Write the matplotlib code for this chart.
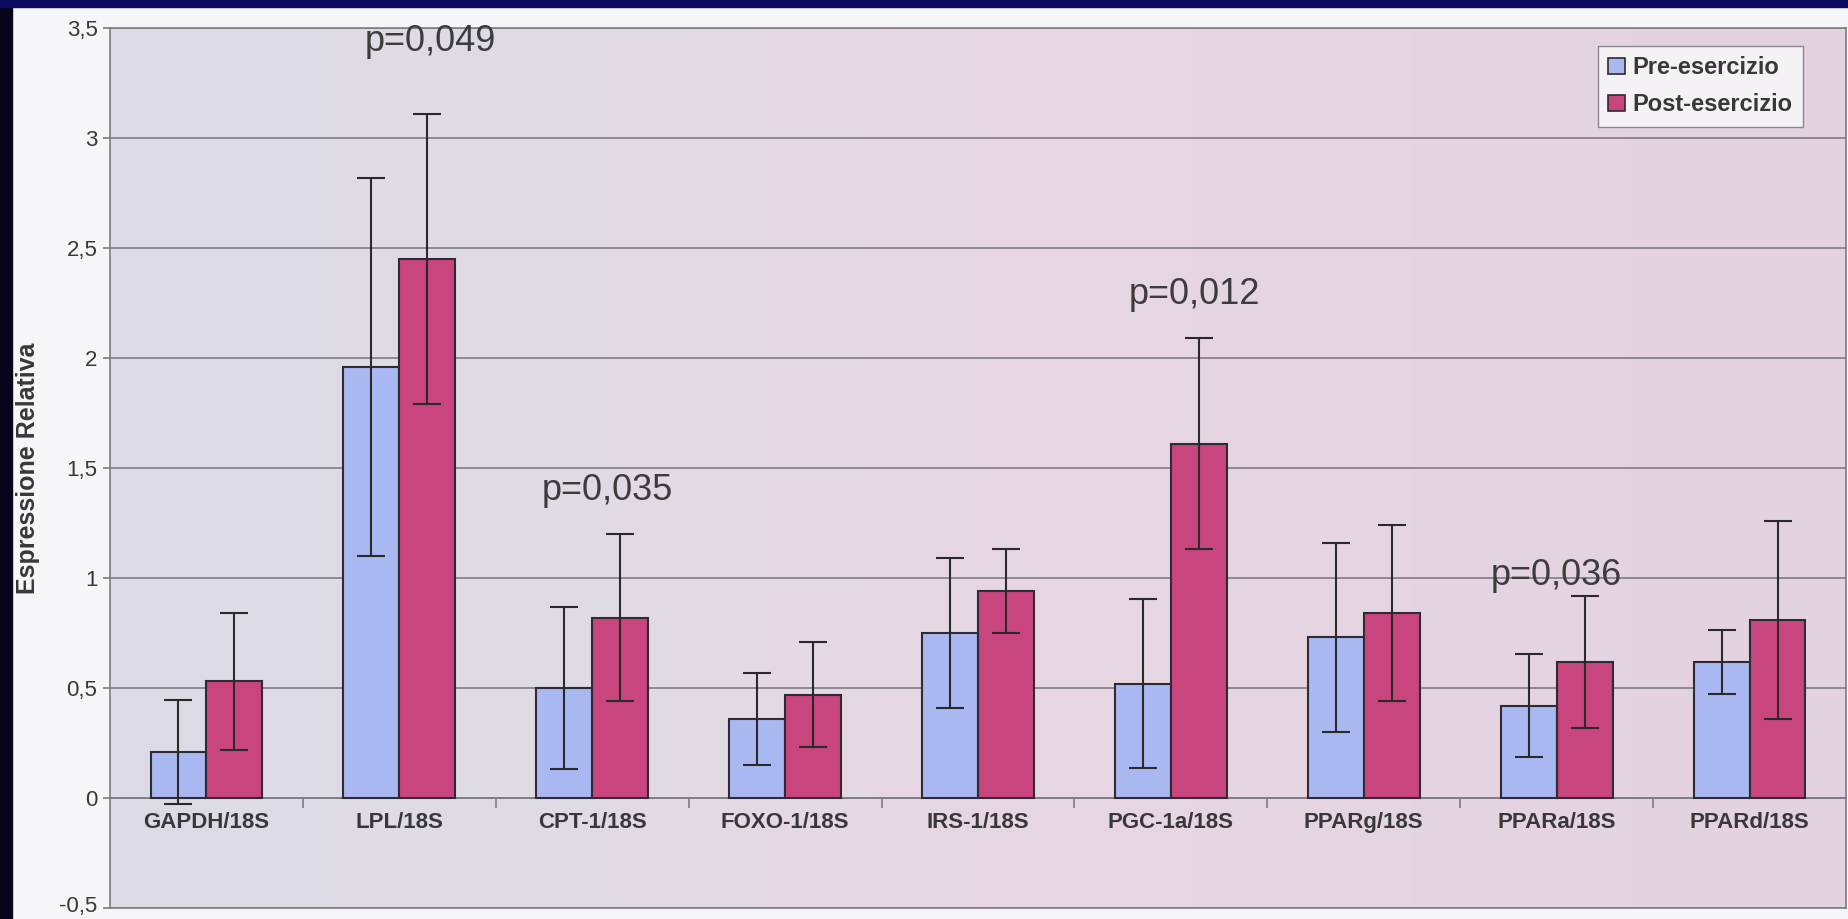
import numpy as np
import matplotlib
matplotlib.use("Agg")
import matplotlib.pyplot as plt
import matplotlib.transforms as mtransforms
from matplotlib.colors import LinearSegmentedColormap
from matplotlib.patches import Rectangle, Patch

plt.rcParams['font.family'] = ['Liberation Sans', 'DejaVu Sans']

categories = ['GAPDH/18S', 'LPL/18S', 'CPT-1/18S', 'FOXO-1/18S', 'IRS-1/18S',
              'PGC-1a/18S', 'PPARg/18S', 'PPARa/18S', 'PPARd/18S']
pre = [0.21, 1.96, 0.50, 0.36, 0.75, 0.52, 0.73, 0.42, 0.62]
pre_err = [0.235, 0.86, 0.37, 0.21, 0.34, 0.385, 0.43, 0.235, 0.145]
post = [0.53, 2.45, 0.82, 0.47, 0.94, 1.61, 0.84, 0.62, 0.81]
post_err = [0.31, 0.66, 0.38, 0.24, 0.19, 0.48, 0.40, 0.30, 0.45]

p_labels = ['p=0,049', 'p=0,035', 'p=0,012', 'p=0,036']
p_groups = [1, 2, 5, 7]
p_offset = [0.16, 0.08, 0.12, 0.0]
p_y = [3.44, 1.40, 2.29, 1.01]

yticks = [-0.5, 0, 0.5, 1, 1.5, 2, 2.5, 3, 3.5]

blue = '#aab8f2'
pink = '#c8457d'
edge = '#2e2a36'
txt = '#383838'
grid_c = '#7e7c84'

fig = plt.figure(figsize=(18.49, 9.19), dpi=100)
fig.patch.set_facecolor('#f6f6f9')

# dark frame along the top and the left edge of the slide
fig.patches.append(Rectangle((0, 0), 0.0065, 1, transform=fig.transFigure,
                             color='#05051c', zorder=-1))
fig.patches.append(Rectangle((0, 0.9925), 1, 0.0075, transform=fig.transFigure,
                             color='#0b0b62', zorder=-1))

ax = fig.add_axes([110 / 1849, 11 / 919, 1736 / 1849, 880 / 919])

# soft lavender-to-pink plot area
bg = LinearSegmentedColormap.from_list(
    'bg', ['#dcdce6', '#e0dbe5', '#e6d7e2', '#e5d5e1', '#e3d3e2'])
ax.imshow(np.linspace(0, 1, 256)[None, :], cmap=bg, aspect='auto',
          extent=[-0.5, 8.5, -0.5, 3.5], zorder=-1)

x = np.arange(len(categories))
w = 0.29
ekw = dict(ecolor='#2a2a2a', elinewidth=1.5, capthick=1.5)
ax.bar(x - w / 2, pre, w, yerr=pre_err, capsize=10, color=blue,
       edgecolor=edge, linewidth=1.5, error_kw=ekw, label='Pre-esercizio', zorder=2)
ax.bar(x + w / 2, post, w, yerr=post_err, capsize=10, color=pink,
       edgecolor=edge, linewidth=1.5, error_kw=ekw, label='Post-esercizio', zorder=2)

ax.set_xlim(-0.5, 8.5)
ax.set_ylim(-0.5, 3.5)
ax.set_yticks(yticks)
ax.set_yticklabels([('%g' % v).replace('.', ',') for v in yticks],
                   fontsize=16, color=txt)
ax.tick_params(axis='y', direction='out', length=5, width=1.2, color=grid_c, pad=4)
# keep the lowest label inside the figure
low = ax.get_yticklabels()[0]
low.set_transform(low.get_transform() +
                  mtransforms.ScaledTranslation(0, 3 / 72, fig.dpi_scale_trans))
ax.set_xticks([])
ax.yaxis.grid(True, color=grid_c, linewidth=1.2)
ax.set_axisbelow(True)
for s in ax.spines.values():
    s.set_color(grid_c)
    s.set_linewidth(1.2)

# category axis crossing at zero
sec = ax.secondary_xaxis(0.125)
sec.set_xticks(np.arange(0.5, 8, 1))
sec.set_xticklabels([])
sec.set_xticks(x, minor=True)
sec.set_xticklabels(categories, minor=True, fontsize=16, fontweight='bold', color=txt)
sec.tick_params(which='major', direction='out', length=7, width=1.2, color=grid_c)
sec.tick_params(which='minor', length=0, pad=10)
sec.spines['bottom'].set_color(grid_c)
sec.spines['bottom'].set_linewidth(1.2)

ax.set_ylabel('Espressione Relativa', fontsize=18, fontweight='bold',
              color=txt, labelpad=14)

for lab, g, off, yy in zip(p_labels, p_groups, p_offset, p_y):
    ax.text(g + off, yy, lab, fontsize=26, color='#3c3c3c', ha='center', va='center')

handles = [Patch(facecolor=blue, edgecolor=edge, linewidth=1.2),
           Patch(facecolor=pink, edgecolor=edge, linewidth=1.2)]
leg = ax.legend(handles, ['Pre-esercizio', 'Post-esercizio'],
                loc='upper right', bbox_to_anchor=(0.975, 0.98), borderaxespad=0,
                prop={'size': 17, 'weight': 'bold'}, fancybox=False,
                facecolor='#f4f2f5', edgecolor='#8a8890', framealpha=1,
                handlelength=0.7, handleheight=0.7, handletextpad=0.3,
                labelspacing=0.6, borderpad=0.45)
for t in leg.get_texts():
    t.set_color(txt)

fig.savefig('out.png', dpi=100, facecolor=fig.get_facecolor())
